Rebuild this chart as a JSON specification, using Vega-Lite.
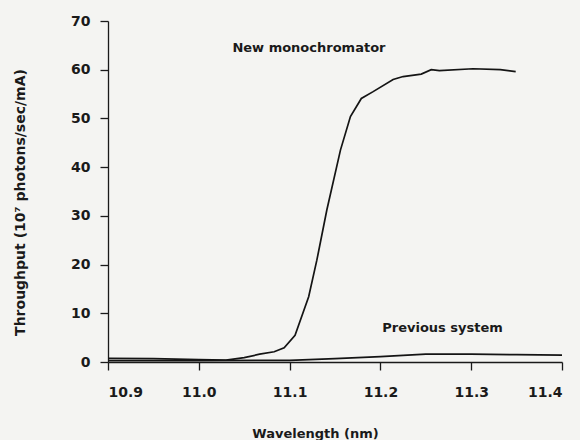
{
  "$schema": "https://vega.github.io/schema/vega-lite/v6.json",
  "width": 454,
  "height": 341,
  "autosize": {"type": "none"},
  "padding": {"left": 108, "top": 21, "right": 18, "bottom": 78},
  "background": "#f4f4f2",
  "config": {
    "view": {"stroke": null},
    "font": "DejaVu Sans",
    "axis": {
      "grid": false,
      "domainColor": "#1a1a1a",
      "domainWidth": 1.3,
      "tickColor": "#1a1a1a",
      "tickWidth": 1.3,
      "tickSize": 8,
      "labelFont": "DejaVu Sans",
      "labelFontWeight": "bold",
      "labelFontSize": 14,
      "labelColor": "#1a1a1a",
      "titleFont": "DejaVu Sans",
      "titleFontWeight": "bold",
      "titleFontSize": 13,
      "titleColor": "#1a1a1a"
    }
  },
  "datasets": {
    "curves": [
      {"series": "New monochromator", "wavelength": 10.9, "throughput": 0.75},
      {"series": "New monochromator", "wavelength": 10.95, "throughput": 0.7},
      {"series": "New monochromator", "wavelength": 11.0, "throughput": 0.5},
      {"series": "New monochromator", "wavelength": 11.03, "throughput": 0.4},
      {"series": "New monochromator", "wavelength": 11.05, "throughput": 0.9},
      {"series": "New monochromator", "wavelength": 11.067, "throughput": 1.6},
      {"series": "New monochromator", "wavelength": 11.083, "throughput": 2.1},
      {"series": "New monochromator", "wavelength": 11.094, "throughput": 2.9},
      {"series": "New monochromator", "wavelength": 11.106, "throughput": 5.5},
      {"series": "New monochromator", "wavelength": 11.121, "throughput": 13.4},
      {"series": "New monochromator", "wavelength": 11.13, "throughput": 20.9},
      {"series": "New monochromator", "wavelength": 11.141, "throughput": 31.2},
      {"series": "New monochromator", "wavelength": 11.156, "throughput": 43.5},
      {"series": "New monochromator", "wavelength": 11.167, "throughput": 50.4},
      {"series": "New monochromator", "wavelength": 11.179, "throughput": 54.1},
      {"series": "New monochromator", "wavelength": 11.192, "throughput": 55.5},
      {"series": "New monochromator", "wavelength": 11.214, "throughput": 58.0},
      {"series": "New monochromator", "wavelength": 11.225, "throughput": 58.6},
      {"series": "New monochromator", "wavelength": 11.245, "throughput": 59.1},
      {"series": "New monochromator", "wavelength": 11.256, "throughput": 60.0},
      {"series": "New monochromator", "wavelength": 11.265, "throughput": 59.8},
      {"series": "New monochromator", "wavelength": 11.302, "throughput": 60.2},
      {"series": "New monochromator", "wavelength": 11.332, "throughput": 60.0},
      {"series": "New monochromator", "wavelength": 11.349, "throughput": 59.6},
      {"series": "Previous system", "wavelength": 10.9, "throughput": 0.3},
      {"series": "Previous system", "wavelength": 11.0, "throughput": 0.3},
      {"series": "Previous system", "wavelength": 11.1, "throughput": 0.35},
      {"series": "Previous system", "wavelength": 11.15, "throughput": 0.7},
      {"series": "Previous system", "wavelength": 11.2, "throughput": 1.1},
      {"series": "Previous system", "wavelength": 11.25, "throughput": 1.6},
      {"series": "Previous system", "wavelength": 11.3, "throughput": 1.6},
      {"series": "Previous system", "wavelength": 11.35, "throughput": 1.5},
      {"series": "Previous system", "wavelength": 11.4, "throughput": 1.4}
    ],
    "labels": [
      {"text": "New monochromator", "wavelength": 11.037, "throughput": 64.4},
      {"text": "Previous system", "wavelength": 11.202, "throughput": 6.9}
    ]
  },
  "layer": [
    {
      "data": {"name": "curves"},
      "mark": {"type": "line", "color": "#141414", "strokeWidth": 1.7, "clip": true},
      "encoding": {
        "x": {
          "field": "wavelength",
          "type": "quantitative",
          "scale": {"domain": [10.9, 11.4], "nice": false, "zero": false},
          "axis": {
            "values": [10.9, 11.0, 11.1, 11.2, 11.3, 11.4],
            "format": ".1f",
            "labelPadding": 15,
            "title": "Wavelength (nm)",
            "titleX": 207,
            "titleY": 71,
            "titleAnchor": "middle",
            "titleAlign": "center",
            "titleBaseline": "middle"
          }
        },
        "y": {
          "field": "throughput",
          "type": "quantitative",
          "scale": {"domain": [0, 70], "nice": false},
          "axis": {
            "values": [0, 10, 20, 30, 40, 50, 60, 70],
            "labelPadding": 10,
            "title": "Throughput (10⁷  photons/sec/mA)",
            "titleFontSize": 14,
            "titleAngle": -90,
            "titleX": -88,
            "titleY": 181,
            "titleAlign": "center",
            "titleBaseline": "middle"
          }
        },
        "detail": {"field": "series"}
      }
    },
    {
      "data": {"name": "labels"},
      "mark": {
        "type": "text",
        "align": "left",
        "baseline": "middle",
        "font": "DejaVu Sans",
        "fontWeight": "bold",
        "fontSize": 13,
        "color": "#1a1a1a"
      },
      "encoding": {
        "x": {"field": "wavelength", "type": "quantitative"},
        "y": {"field": "throughput", "type": "quantitative"},
        "text": {"field": "text"}
      }
    }
  ]
}
